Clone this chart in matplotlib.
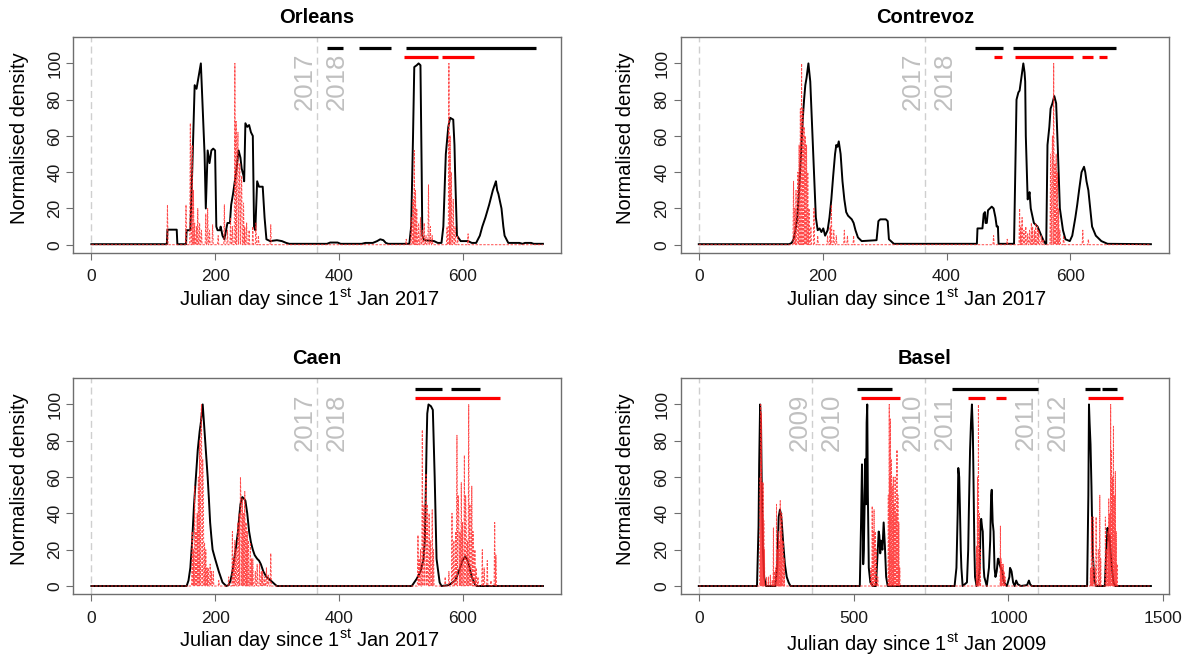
import numpy as np
import matplotlib
matplotlib.use("Agg")
import matplotlib.pyplot as plt
from matplotlib.transforms import offset_copy

plt.rcParams['font.family'] = ['Liberation Sans', 'DejaVu Sans']
plt.rcParams['mathtext.fontset'] = 'custom'
plt.rcParams['mathtext.rm'] = 'Liberation Sans'
plt.rcParams['mathtext.it'] = 'Liberation Sans:italic'
plt.rcParams['mathtext.bf'] = 'Liberation Sans:bold'

# ---------------- DATA ----------------
titles = ["Orleans", "Contrevoz", "Caen", "Basel"]
xlabels = ["Julian day since 1$^{\\mathrm{st}}$ Jan 2017",
           "Julian day since 1$^{\\mathrm{st}}$ Jan 2017",
           "Julian day since 1$^{\\mathrm{st}}$ Jan 2017",
           "Julian day since 1$^{\\mathrm{st}}$ Jan 2009"]
x_max = [730, 730, 730, 1460]
x_ticks = [[0, 200, 400, 600], [0, 200, 400, 600], [0, 200, 400, 600], [0, 500, 1000, 1500]]
y_ticks = [0, 20, 40, 60, 80, 100]
year_lines = [[0, 365], [0, 365], [0, 365], [0, 365, 730, 1095]]
year_pairs = [[("2017", "2018")], [("2017", "2018")], [("2017", "2018")],
              [("2009", "2010"), ("2010", "2011"), ("2011", "2012")]]
year_pair_at = [[365], [365], [365], [365, 730, 1095]]

# Black (solid) curves: knots (day, normalised density)
orleans_bx = [0,122,123,138,139,153,154,160,163,167,170,172,177,180,183,185,188,191,194,197,200,202,204,208,209,212,215,220,224,226,229,234,238,241,243,246,247,249,252,255,258,261,263,265,268,271,277,280,283,289,300,308,315,320,381,386,398,403,437,443,455,462,467,472,476,480,514,517,520,522,526,529,532,534,535,538,554,560,566,569,573,577,580,585,587,588,591,597,609,615,622,628,632,637,643,646,649,652,654,656,658,663,666,668,674,692,697,701,711,715,730]
orleans_by = [0.3,0.3,8.3,8.3,0.3,0.3,8,8,40,88,86,90,100,75,50,20,52,45,52,53,52,10,8,8,10,5,3,12,12,22,28,40,52,48,42,38,35,67,65,66,62,60,10,8,35,32,32,15,3,2,2.5,2,1,0.5,0.5,1.2,1.2,0.5,0.5,1,1,2,3,2.5,1,0.5,0.5,10,60,98,99,100,99,40,5,2.5,2,1,1,10,50,65,70,69,55,40,5,2,2,1,1,5,10,15,22,26,30,33,35,30,28,20,10,5,1,1,0.5,1,1,0.5,0.5]

contrevoz_bx = [0,146,150,153,156,159,162,165,168,170,172,174,177,180,183,186,189,192,195,198,201,204,208,211,214,217,220,222,224,226,229,232,235,238,241,244,247,250,253,257,263,287,290,293,302,305,307,315,449,450,458,460,462,463,465,467,470,473,476,479,481,483,484,509,511,513,516,518,520,522,524,526,527,528,531,533,534,536,541,544,547,553,557,560,561,563,566,568,571,574,577,580,583,588,592,599,603,608,611,614,618,622,624,626,629,632,635,641,650,660,730]
contrevoz_by = [0.3,0.3,1,3,8,15,30,50,70,80,88,92,100,90,65,40,15,8,9,7,9,5,8,15,25,38,50,55,54,57,50,35,25,18,16,15,14,12,8,4,2,2.5,13,14,14,13,3,0.5,0.5,9,9,17,18,12,12,19,20,21,20,15,10,10,0.5,0.5,40,80,84,85,90,95,100,95,90,60,25,27,29,20,12,11,10,5,2,0.5,0.5,55,65,75,78,82,78,50,20,8,3,2,5,15,22,30,40,43,40,35,30,20,10,5,2,0.5,0.3]

caen_bx = [0,154,157,160,163,166,169,172,175,177,180,183,186,188,190,192,194,196,200,206,212,218,222,225,228,231,234,237,239,241,244,247,249,252,255,258,261,264,268,271,274,276,278,283,290,298,300,518,520,526,532,535,537,539,540,542,543,545,549,552,553,555,558,563,566,578,588,594,600,604,607,610,615,620,623,730]
caen_by = [0,0,3,10,25,45,60,75,85,90,100,85,70,60,48,35,27,20,15,8,2,0,0.5,3,8,15,22,30,38,45,49,48,47,40,30,24,20,17,15,14,12,10,8,5,3,0.5,0,0,1,4,8,12,15,25,40,80,95,100,99,97,85,60,15,2,0,0.5,3,8,14,16,15,12,5,1,0,0]

basel_bx = [0,188,193,195,198,201,203,207,211,217,247,253,258,262,265,268,272,278,284,290,296,520,524,527,529,531,533,535,538,540,542,544,546,549,554,562,572,578,581,583,586,588,591,593,597,601,605,610,826,832,836,838,841,843,846,848,852,866,870,872,876,879,882,885,887,890,892,897,903,907,910,912,915,917,920,922,930,937,941,944,946,949,952,955,958,962,966,968,971,975,980,985,995,1003,1005,1008,1010,1015,1020,1025,1030,1040,1060,1066,1070,1075,1254,1258,1260,1262,1265,1268,1270,1272,1277,1283,1311,1316,1320,1323,1326,1330,1333,1339,1345,1460]
basel_by = [0,0,33,67,100,90,60,20,5,0,0,10,38,42,40,35,25,12,5,2,0,0,35,67,50,12,20,40,70,45,90,100,50,10,2,0,0,20,30,28,18,25,22,20,35,22,5,0,0,10,40,65,60,45,20,10,0,2,20,40,75,90,100,85,60,20,5,0,3,10,35,37,32,30,10,5,0,10,25,50,53,35,30,10,5,8,15,15,12,10,8,2,0,5,10,9,8,2,0,3,1,0,0.5,3,1,0,0,50,100,90,78,55,35,20,3,0,0,20,32,25,28,18,12,2,0,0]

# Red (dashed) daily series: non-zero days and values (all other days are 0)
orleans_rd = [123,153,160,163,165,167,170,172,175,178,185,188,191,196,205,215,220,225,228,232,234,236,237,239,240,242,243,246,248,251,255,261,266,270,290,509,517,520,522,524,526,529,532,535,538,541,545,548,551,575,578,580,582,585,588,592,609]
orleans_rv = [22,22,67,55,30,12,10,20,12,8,17,20,8,11,5,22,8,15,10,100,68,45,62,30,45,25,38,23,10,12,8,10,12,5,11,3,15,25,52,30,20,12,15,8,12,5,33,10,5,10,100,60,40,25,10,5,6]

contrevoz_rd = [153,155,157,160,162,164,166,168,170,172,174,176,178,181,186,192,208,212,214,218,222,235,240,250,476,498,518,520,522,525,528,531,534,537,539,542,544,547,549,553,556,568,570,571,573,575,577,579,581,583,589,620,629]
contrevoz_rv = [35,20,30,40,55,75,100,75,65,60,55,40,20,10,20,5,5,10,22,8,5,8,5,5,5,3,20,10,15,8,10,6,8,12,10,8,12,10,8,5,3,50,40,60,100,45,50,40,20,8,5,8,3]

caen_rd = [163,165,167,169,171,173,175,177,178,180,181,183,185,187,189,192,194,197,206,222,228,230,232,234,237,239,241,242,244,246,248,250,252,254,257,259,261,265,268,272,275,277,280,283,286,290,528,530,532,535,537,538,540,541,543,546,548,551,553,572,578,583,586,589,591,593,594,596,598,600,603,605,606,608,610,612,615,617,620,622,625,632,635,640,646,652,654]
caen_rv = [30,20,55,30,40,60,80,90,100,70,50,24,20,10,10,12,8,8,3,5,30,15,25,20,35,40,60,45,48,40,52,35,30,25,24,15,15,8,12,12,8,8,5,10,6,18,28,15,20,86,40,45,30,62,45,40,25,42,20,5,8,40,25,30,83,50,40,30,57,35,72,50,35,25,100,45,55,30,20,10,5,20,10,14,3,35,17]

basel_rd = [198,200,202,204,206,208,210,212,219,225,231,237,241,244,248,251,254,257,260,263,265,268,272,276,556,560,563,566,570,573,578,612,615,617,619,622,625,628,631,634,637,640,643,646,649,897,900,903,906,909,974,976,979,983,986,989,1265,1268,1271,1274,1280,1283,1290,1295,1298,1313,1317,1321,1324,1327,1330,1333,1336,1339,1342,1345,1348,1351]
basel_rv = [60,100,95,57,40,57,36,20,5,5,6,3,32,8,10,45,20,30,25,47,30,40,25,15,10,44,30,42,30,20,5,50,100,60,92,70,55,60,45,60,40,75,50,35,10,22,60,100,40,20,33,15,12,12,8,5,10,38,10,38,10,38,20,50,15,38,20,30,48,40,100,75,60,88,50,63,30,12]

# Horizontal period bars (start day, end day)
orleans_black_bars = [(381, 406), (433, 485), (508, 718)]
orleans_red_bars = [(506, 560), (567, 619)]
contrevoz_black_bars = [(446, 491), (507, 674)]
contrevoz_red_bars = [(476, 489), (511, 605), (619, 637), (646, 659)]
caen_black_bars = [(523, 567), (581, 629)]
caen_red_bars = [(523, 661)]
basel_black_bars = [(512, 625), (818, 1094), (1247, 1296), (1303, 1349)]
basel_red_bars = [(524, 650), (868, 925), (960, 991), (1256, 1369)]
black_bar_y = 108.5
red_bar_y = 103.5

black_x = [orleans_bx, contrevoz_bx, caen_bx, basel_bx]
black_y = [orleans_by, contrevoz_by, caen_by, basel_by]
red_d = [orleans_rd, contrevoz_rd, caen_rd, basel_rd]
red_v = [orleans_rv, contrevoz_rv, caen_rv, basel_rv]
black_bars = [orleans_black_bars, contrevoz_black_bars, caen_black_bars, basel_black_bars]
red_bars = [orleans_red_bars, contrevoz_red_bars, caen_red_bars, basel_red_bars]

# ---------------- FIGURE ----------------
W, H = 1192, 663
fig = plt.figure(figsize=(W / 100, H / 100), dpi=100)

boxes = [(73.3, 561, 37.3, 252.7), (680.7, 1169, 37.3, 252.7),
         (73.3, 561, 378.3, 594), (680.7, 1169, 378.3, 594)]
ylab_x = [-0.0908, -0.0935, -0.0908, -0.0935]
xlab_y = [-0.1565, -0.1565, -0.1565, -0.175]

axis_col = '#6e6e6e'
year_col = '#c0c0c0'

for i in range(4):
    l, r, t, b = boxes[i]
    ax = fig.add_axes([l / W, 1 - b / H, (r - l) / W, (b - t) / H])
    xm = x_max[i]
    ax.set_xlim(-0.04 * xm, 1.04 * xm)
    ax.set_ylim(-4.4, 114.4)

    for xv in year_lines[i]:
        ax.axvline(xv, color='#cfcfcf', lw=1.0, ls=(0, (5, 3)), zorder=1)

    # year labels
    to_left = offset_copy(ax.transData, fig=fig, x=-5, y=0, units='dots')
    to_right = offset_copy(ax.transData, fig=fig, x=27, y=0, units='dots')
    for (ya, yb), xv in zip(year_pairs[i], year_pair_at[i]):
        ax.text(xv, 90, ya, transform=to_left, rotation=90, rotation_mode='anchor',
                ha='center', va='baseline', fontsize=18.5, color=year_col, zorder=2)
        ax.text(xv, 90, yb, transform=to_right, rotation=90, rotation_mode='anchor',
                ha='center', va='baseline', fontsize=18.5, color=year_col, zorder=2)

    ax.plot(black_x[i], black_y[i], color='black', lw=1.4, zorder=3)

    days = np.arange(0, xm + 1)
    vals = np.zeros(len(days))
    vals[np.array(red_d[i])] = red_v[i]
    ax.plot(days, vals, color='#ff2a2a', lw=0.7, alpha=0.85, ls=(0, (2.5, 1.5)), zorder=4)

    for s, e in black_bars[i]:
        ax.plot([s, e], [black_bar_y, black_bar_y], color='black', lw=2.3,
                solid_capstyle='butt', zorder=5)
    for s, e in red_bars[i]:
        ax.plot([s, e], [red_bar_y, red_bar_y], color='#ff0000', lw=2.3,
                solid_capstyle='butt', zorder=5)

    ax.set_xticks(x_ticks[i])
    ax.set_xticklabels([str(v) for v in x_ticks[i]])
    ax.set_yticks(y_ticks)
    ax.set_yticklabels([str(v) for v in y_ticks], rotation=90, va='center')
    ax.tick_params(axis='both', direction='out', length=5, width=0.8,
                   color=axis_col, labelsize=12.5, labelcolor='#1a1a1a')
    ax.tick_params(axis='x', pad=6.9)
    ax.tick_params(axis='y', pad=3)
    for sp in ax.spines.values():
        sp.set_color(axis_col)
        sp.set_linewidth(1.0)
    ax.set_title(titles[i], fontsize=14.5, fontweight='bold', pad=10.6)
    ax.set_xlabel(xlabels[i], fontsize=14.5)
    ax.xaxis.set_label_coords(0.4836, xlab_y[i])
    ax.set_ylabel("Normalised density", fontsize=14.5)
    ax.yaxis.set_label_coords(ylab_x[i], 0.531)

fig.savefig("out.png", dpi=100)
